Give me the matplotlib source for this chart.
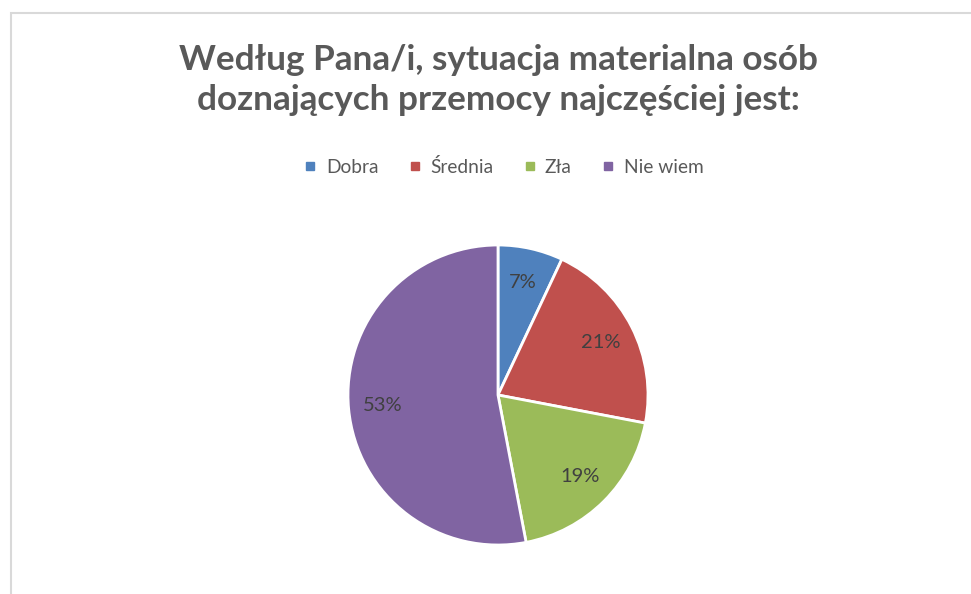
import matplotlib
matplotlib.use('Agg')
import matplotlib.pyplot as plt
from matplotlib.lines import Line2D
from matplotlib.patches import Rectangle

plt.rcParams['font.family'] = ['Lato', 'DejaVu Sans']

# data
categories = ['Dobra', 'Średnia', 'Zła', 'Nie wiem']
shares = [7, 21, 19, 53]
colors = ['#4F81BD', '#C0504D', '#9BBB59', '#8064A2']
title = 'Według Pana/i, sytuacja materialna osób\ndoznających przemocy najczęściej jest:'

W, H = 971, 594
fig = plt.figure(figsize=(W / 100, H / 100), dpi=100)

# chart border (light gray, runs off the right/bottom edges)
fig.patches.append(Rectangle((10.5 / W, -0.05), 1.0, 1 - 13 / H + 0.05,
                             transform=fig.transFigure, fill=False,
                             edgecolor='#d9d9d9', linewidth=1.5))

# title
fig.text(498 / W, 1 - 80 / H, title, ha='center', va='center', fontsize=25.3,
         fontweight='bold', color='#595959', linespacing=1.33)

# pie: center (498, 395), radius 150 px
cx, cy, r = 498, 395, 150
ax = fig.add_axes([(cx - r) / W, 1 - (cy + r) / H, 2 * r / W, 2 * r / H])
wedges, texts, autotexts = ax.pie(
    shares, colors=colors, startangle=90, counterclock=False,
    autopct='%1.0f%%', pctdistance=0.77,
    wedgeprops=dict(edgecolor='white', linewidth=2),
    textprops=dict(color='#404040', fontsize=14.5))
ax.set_xlim(-1, 1)
ax.set_ylim(-1, 1)
ax.set_aspect('equal')
ax.axis('off')

# legend
handles = [Line2D([], [], marker='s', linestyle='none', markersize=6,
                  markerfacecolor=c, markeredgecolor=c) for c in colors]
fig.legend(handles, categories, loc='center', ncol=4,
           bbox_to_anchor=(503 / W, 1 - 167 / H), frameon=False,
           fontsize=13.8, labelcolor='#595959', handlelength=0.8,
           handletextpad=0.4, columnspacing=1.5)

fig.savefig('out.png', dpi=100)
